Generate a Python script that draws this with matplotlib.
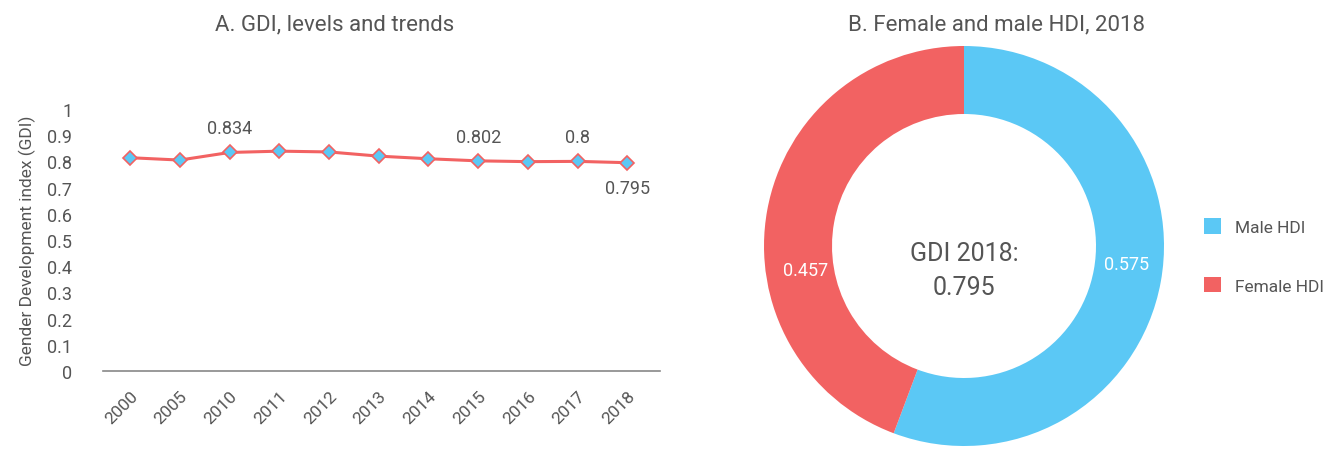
import matplotlib
matplotlib.use("Agg")
import matplotlib.pyplot as plt
from matplotlib.patches import Patch

plt.rcParams['font.family'] = ['Roboto', 'DejaVu Sans']

years = ['2000', '2005', '2010', '2011', '2012', '2013', '2014', '2015', '2016', '2017', '2018']
gdi = [0.814, 0.805, 0.834, 0.839, 0.836, 0.820, 0.810, 0.802, 0.799, 0.800, 0.795]
labelled = {'2010': '0.834', '2015': '0.802', '2017': '0.8', '2018': '0.795'}
yticks = [0, 0.1, 0.2, 0.3, 0.4, 0.5, 0.6, 0.7, 0.8, 0.9, 1]

pie_labels = ['Male HDI', 'Female HDI']
pie_values = [0.575, 0.457]
gdi_2018 = 0.795

RED = '#F26262'
BLUE = '#5BC8F5'
TXT = '#555555'

fig = plt.figure(figsize=(13.34, 4.6), dpi=100)

ax = fig.add_axes([0.077, 0.191, 0.4175, 0.570])
x = list(range(len(years)))
ax.plot(x, gdi, color=RED, lw=2.2, marker='D', markersize=7,
        markerfacecolor=BLUE, markeredgecolor=RED, markeredgewidth=1.2, zorder=3)
for i, y in enumerate(years):
    if y in labelled:
        if y == '2018':
            ax.annotate(labelled[y], (i, gdi[i]), xytext=(0, -12), textcoords='offset points',
                        ha='center', va='top', fontsize=13, color=TXT)
        else:
            ax.annotate(labelled[y], (i, gdi[i]), xytext=(0, 11), textcoords='offset points',
                        ha='center', va='bottom', fontsize=13, color=TXT)
ax.set_xlim(-0.55, 10.65)
ax.set_ylim(0, 1)
ax.set_yticks(yticks)
ax.set_yticklabels([f'{v:g}' for v in yticks], fontsize=13, color=TXT)
ax.set_xticks(x)
ax.set_xticklabels(years, rotation=45, ha='right', rotation_mode='anchor', fontsize=12.5, color=TXT)
ax.tick_params(axis='both', length=0, pad=12)
ax.tick_params(axis='y', pad=22)
for s in ['top', 'right', 'left']:
    ax.spines[s].set_visible(False)
ax.spines['bottom'].set_color('#888888')
ax.spines['bottom'].set_linewidth(1.2)
ax.set_ylabel('Gender Development index (GDI)', fontsize=12.5, color=TXT, labelpad=8)
fig.text(335 / 1334, 1 - 25 / 460, 'A. GDI, levels and trends', ha='center', va='center',
         fontsize=16, color=TXT)

ax2 = fig.add_axes([(964 - 200) / 1334, (460 - 247 - 200) / 460, 400 / 1334, 400 / 460])
wedges, _ = ax2.pie(pie_values, colors=[BLUE, RED], startangle=90, counterclock=False,
                    radius=1, wedgeprops=dict(width=0.34, edgecolor='none'))
ax2.set_xlim(-1, 1)
ax2.set_ylim(-1, 1)
ax2.set_aspect('equal')
ax2.text(0.815, -0.09, f'{pie_values[0]:.3f}', ha='center', va='center', fontsize=13, color='white')
ax2.text(-0.79, -0.12, f'{pie_values[1]:.3f}', ha='center', va='center', fontsize=13, color='white')
ax2.text(0, -0.12, f'GDI 2018:\n{gdi_2018}', ha='center', va='center', fontsize=18,
         color=TXT, linespacing=1.5)
fig.text(997 / 1334, 1 - 25 / 460, 'B. Female and male HDI, 2018', ha='center', va='center',
         fontsize=16, color=TXT)

handles = [Patch(facecolor=BLUE, edgecolor='none'), Patch(facecolor=RED, edgecolor='none')]
fig.legend(handles, pie_labels, loc='center left', bbox_to_anchor=(1188 / 1334, 1 - 257 / 460),
           frameon=False, fontsize=12.5, labelcolor=TXT, handlelength=1.0, handleheight=1.0,
           labelspacing=2.4, handletextpad=0.8)

fig.savefig('out.png', dpi=100)
